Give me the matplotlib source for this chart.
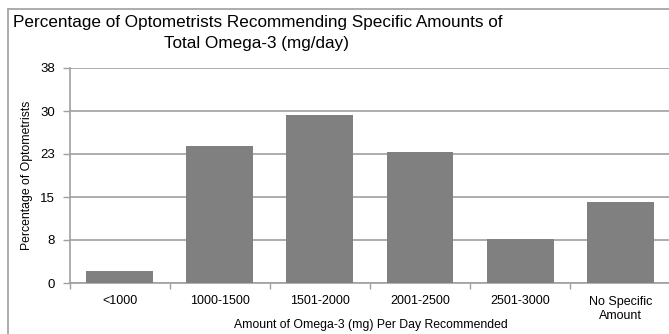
import matplotlib.pyplot as plt
from matplotlib.ticker import FuncFormatter, MultipleLocator
import numpy as np

categories = ['<1000', '1000-1500', '1501-2000', '2001-2500', '2501-3000', 'No Specific\nAmount']
percent = [2.1, 23.9, 29.3, 22.9, 7.6, 14.1]

plt.rcParams['font.family'] = ['Liberation Sans', 'DejaVu Sans']

W, H = 669, 334
fig = plt.figure(figsize=(W / 100, H / 100), dpi=100)

# background layer in pixel units for the chart frame and title
bg = fig.add_axes([0, 0, 1, 1])
bg.set_xlim(0, W)
bg.set_ylim(H, 0)
bg.axis('off')
bg.plot([7.5, 7.5], [H, 8.5], color='#a6a6a6', linewidth=1.3)
bg.plot([7.5, W], [8.5, 8.5], color='#a6a6a6', linewidth=1.3)

bg.text(258, 27, 'Percentage of Optometrists Recommending Specific Amounts of',
        ha='center', va='baseline', fontsize=12.3)
bg.text(256, 48, 'Total Omega-3 (mg/day)', ha='center', va='baseline', fontsize=12.3)

ax = fig.add_axes([69.5 / W, 1 - 283 / H, 1 - 69.5 / W + 0.002, (283 - 68) / H])
x = np.arange(len(categories))
ax.bar(x, percent, width=0.667, color='#808080', zorder=3)

ax.set_xlim(-0.5, len(categories) - 0.5)
ax.set_ylim(0, 37.5)
ax.yaxis.set_major_locator(MultipleLocator(7.5))
ax.yaxis.set_major_formatter(FuncFormatter(lambda v, p: '%d' % int(v + 0.5)))
ax.grid(axis='y', color='#a0a0a0', linewidth=1.2, zorder=1)

ax.set_xticks(x)
ax.set_xticklabels(categories, fontsize=9, linespacing=1.25)
ax.set_xticks(np.arange(len(categories) + 1) - 0.5, minor=True)
ax.tick_params(axis='x', which='major', length=0, pad=9)
ax.tick_params(axis='x', which='minor', length=4, color='#a0a0a0', width=1)
ax.tick_params(axis='y', length=5, color='#a0a0a0', width=1, labelsize=9.5, pad=5.5)

for s in ['top', 'right']:
    ax.spines[s].set_visible(False)
for s in ['left', 'bottom']:
    ax.spines[s].set_color('#a0a0a0')
    ax.spines[s].set_linewidth(1.2)

aw = W - 69.5
ax.set_ylabel('Percentage of Optometrists', fontsize=8.8)
ax.set_xlabel('Amount of Omega-3 (mg) Per Day Recommended', fontsize=8.8)
ax.xaxis.set_label_coords((370 - 69.5) / aw, -(319 - 283) / 215)
ax.yaxis.set_label_coords(-(69.5 - 33) / aw, 0.5)

fig.savefig('out.png', dpi=100)
